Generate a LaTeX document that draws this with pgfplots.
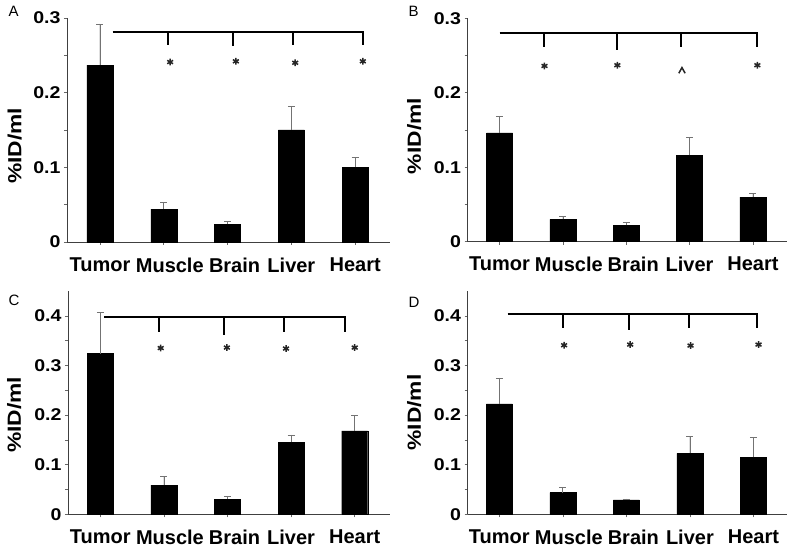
\documentclass[border=0pt]{standalone}
\usepackage{fontspec}
\setmainfont{Liberation Sans}
\newfontfamily\ticksf[FakeStretch=1.15]{Liberation Sans}
\newfontfamily\labelsf[FakeStretch=1.2]{Liberation Sans}
\usepackage{pgfplots}
\pgfplotsset{compat=1.18}
\pgfplotsset{
  panel/.style={
    scale only axis, anchor=south west, clip=false,
    axis lines=left, axis line style={-, draw=black!75, line width=0.8bp},
    ymin=0,
    xtick={0,1,2,3,4}, xticklabels={Tumor,\hspace{12bp}Muscle,\hspace{14bp}Brain,Liver,Heart},
    tick align=outside, major tick length=3bp, minor tick length=3bp,
    every tick/.style={draw=black!60, line width=0.6bp},
    xticklabel style={font=\fontsize{20bp}{22bp}\selectfont\bfseries, yshift=-9bp},
    yticklabel style={font=\ticksf\fontsize{17bp}{19bp}\selectfont\bfseries},
    ylabel={\%ID/ml},
    ylabel style={font=\labelsf\fontsize{19bp}{21bp}\selectfont\bfseries, anchor=center},
  },
  bars/.style={ybar, bar width=26bp, fill=black, draw=black,
    error bars/.cd, y dir=plus, y explicit,
    error bar style={draw=black!55, line width=0.7bp},
    error mark options={rotate=90, mark size=3.5bp, draw=black!55, line width=0.7bp}},
  brk/.style={black, line width=2bp, no marks},
  star/.style={only marks, mark=asterisk, mark size=3.4bp, mark options={line width=1.5bp, draw=black!85}},
}
\begin{document}
\begin{tikzpicture}
\useasboundingbox (0,0) rectangle (800bp,552bp);
\node[anchor=base west, font=\fontsize{15bp}{15bp}\selectfont] at (5bp,535bp) {A};
\node[anchor=base west, font=\fontsize{15bp}{15bp}\selectfont] at (405bp,535bp) {B};
\node[anchor=base west, font=\fontsize{15bp}{15bp}\selectfont] at (5bp,246bp) {C};
\node[anchor=base west, font=\fontsize{15bp}{15bp}\selectfont] at (405bp,244bp) {D};

% Panel A
\begin{axis}[panel, at={(67bp,310bp)}, width=323bp, height=224bp,
  xmin=-0.517, xmax=4.546, ymax=0.3,
  ytick={0,0.1,0.2,0.3}, yticklabels={0,0.1,0.2,0.3}, minor ytick={0.05,0.15,0.25},
  ylabel style={at={(axis description cs:-0.162,0.43)}}]
\addplot[bars] coordinates {(0,0.237) +- (0,0.055) (1,0.044) +- (0,0.009) (2,0.0237) +- (0,0.0033) (3,0.150) +- (0,0.032) (4,0.100) +- (0,0.013)};
\addplot[brk] coordinates {(0.2,0.2816) (4.12,0.2816) (4.12,0.264)};
\addplot[brk] coordinates {(1.07,0.2816) (1.07,0.264)};
\addplot[brk] coordinates {(2.08,0.2816) (2.08,0.262)};
\addplot[brk] coordinates {(3.02,0.2816) (3.02,0.264)};
\addplot[star] coordinates {(1.1,0.241) (2.13,0.242) (3.06,0.240) (4.12,0.242)};
\end{axis}

% Panel B
\begin{axis}[panel, at={(467.5bp,310.3bp)}, width=319bp, height=223.4bp,
  xmin=-0.505, xmax=4.53, ymax=0.3,
  ytick={0,0.1,0.2,0.3}, yticklabels={0,0.1,0.2,0.3}, minor ytick={0.05,0.15,0.25},
  ylabel style={at={(axis description cs:-0.167,0.473)}}]
\addplot[bars] coordinates {(0,0.146) +- (0,0.022) (1,0.030) +- (0,0.0035) (2,0.022) +- (0,0.004) (3,0.116) +- (0,0.024) (4,0.060) +- (0,0.005)};
\addplot[brk] coordinates {(0,0.280) (4.06,0.280) (4.06,0.2615)};
\addplot[brk] coordinates {(0.70,0.280) (0.70,0.2615)};
\addplot[brk] coordinates {(1.85,0.280) (1.85,0.258)};
\addplot[brk] coordinates {(2.87,0.280) (2.87,0.2615)};
\addplot[star] coordinates {(0.71,0.236) (1.86,0.237) (4.07,0.237)};
\addplot[black!85, line width=1.5bp, no marks] coordinates {(2.83,0.2262) (2.88,0.2338) (2.93,0.2262)};
\end{axis}

% Panel C
\begin{axis}[panel, at={(68bp,37.7bp)}, width=322bp, height=223.3bp,
  xmin=-0.508, xmax=4.555, ymax=0.45,
  ytick={0,0.1,0.2,0.3,0.4}, yticklabels={0,0.1,0.2,0.3,0.4}, minor ytick={0.05,0.15,0.25,0.35},
  ylabel style={at={(axis description cs:-0.167,0.445)}}]
\addplot[bars] coordinates {(0,0.324) +- (0,0.082) (1,0.0587) +- (0,0.017) (2,0.030) +- (0,0.006) (3,0.145) +- (0,0.015) (4,0.168) +- (0,0.031)};
\addplot[brk] coordinates {(0.06,0.397) (3.85,0.397) (3.85,0.3676)};
\addplot[brk] coordinates {(0.93,0.397) (0.93,0.3676)};
\addplot[brk] coordinates {(1.94,0.397) (1.94,0.362)};
\addplot[brk] coordinates {(2.89,0.397) (2.89,0.3676)};
\addplot[star] coordinates {(0.95,0.335) (1.99,0.336) (2.92,0.334) (4.0,0.336)};
\end{axis}

% Panel D
\begin{axis}[panel, at={(467.5bp,37.7bp)}, width=319bp, height=223.3bp,
  xmin=-0.50, xmax=4.52, ymax=0.45,
  ytick={0,0.1,0.2,0.3,0.4}, yticklabels={0,0.1,0.2,0.3,0.4}, minor ytick={0.05,0.15,0.25,0.35},
  ylabel style={at={(axis description cs:-0.167,0.456)}}]
\addplot[bars] coordinates {(0,0.2227) +- (0,0.052) (1,0.0437) +- (0,0.010) (2,0.029) +- (0,0.002) (3,0.1227) +- (0,0.034) (4,0.1146) +- (0,0.040)};
\addplot[brk] coordinates {(0.13,0.403) (4.06,0.403) (4.06,0.3757)};
\addplot[brk] coordinates {(1.0,0.403) (1.0,0.3757)};
\addplot[brk] coordinates {(2.04,0.403) (2.04,0.371)};
\addplot[brk] coordinates {(2.98,0.403) (2.98,0.3757)};
\addplot[star] coordinates {(1.02,0.3407) (2.06,0.342) (3.01,0.340) (4.08,0.342)};
\end{axis}
\end{tikzpicture}
\end{document}
